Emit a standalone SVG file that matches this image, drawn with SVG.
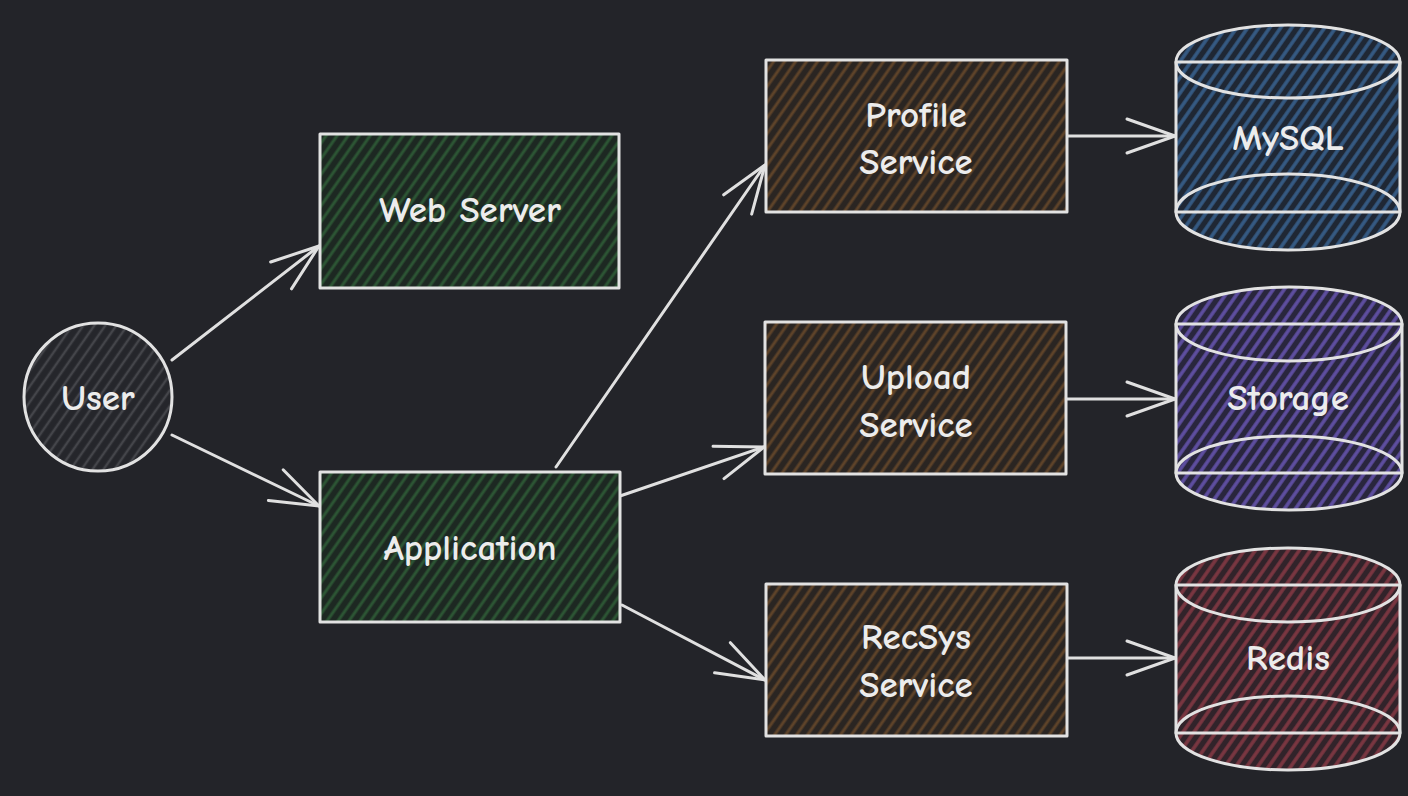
<svg xmlns="http://www.w3.org/2000/svg" width="1408" height="796" viewBox="0 0 1408 796">
<defs>
<pattern id="hUser" width="9" height="9" patternUnits="userSpaceOnUse" patternTransform="rotate(35)"><rect width="9" height="9" fill="#25262b"/><line x1="3" y1="0" x2="3" y2="9" stroke="#44454a" stroke-width="2.5"/></pattern>
<pattern id="hGreen" width="9" height="9" patternUnits="userSpaceOnUse" patternTransform="rotate(35)"><rect width="9" height="9" fill="#1d2822"/><line x1="3" y1="0" x2="3" y2="9" stroke="#2c5534" stroke-width="3"/></pattern>
<pattern id="hBrown" width="9" height="9" patternUnits="userSpaceOnUse" patternTransform="rotate(35)"><rect width="9" height="9" fill="#2a2522"/><line x1="3" y1="0" x2="3" y2="9" stroke="#5e4329" stroke-width="3"/></pattern>
<pattern id="hBlue" width="9" height="9" patternUnits="userSpaceOnUse" patternTransform="rotate(35)"><rect width="9" height="9" fill="#1f2734"/><line x1="3" y1="0" x2="3" y2="9" stroke="#355a83" stroke-width="3.5"/></pattern>
<pattern id="hPurple" width="9" height="9" patternUnits="userSpaceOnUse" patternTransform="rotate(35)"><rect width="9" height="9" fill="#29263d"/><line x1="3" y1="0" x2="3" y2="9" stroke="#5e4ea0" stroke-width="3.5"/></pattern>
<pattern id="hRed" width="9" height="9" patternUnits="userSpaceOnUse" patternTransform="rotate(35)"><rect width="9" height="9" fill="#31232a"/><line x1="3" y1="0" x2="3" y2="9" stroke="#7a3641" stroke-width="3.5"/></pattern>
<marker id="arr" markerUnits="userSpaceOnUse" markerWidth="60" markerHeight="60" refX="0" refY="0" viewBox="-40 -30 60 60" orient="auto" overflow="visible">
<path d="M-48,-17 L0,0 L-48,17" fill="none" stroke="#e0e0e0" stroke-width="3" stroke-linecap="round" stroke-linejoin="round"/>
</marker>
</defs>
<style>
.ol{fill:none;stroke:#e2e2e2;stroke-width:3;stroke-linecap:round;stroke-linejoin:round}
.cn{fill:none;stroke:#e0e0e0;stroke-width:3;stroke-linecap:round}
.t{font-family:"Comic Neue","Liberation Sans",sans-serif;font-size:37px;font-weight:bold;fill:#ececec;text-anchor:middle;dominant-baseline:central}
</style>
<rect width="1408" height="796" fill="#232429"/>

<g id="connectors">
<line class="cn" x1="172" y1="360" x2="319" y2="246" marker-end="url(#arr)"/>
<line class="cn" x1="172" y1="435" x2="319" y2="506" marker-end="url(#arr)"/>
<line class="cn" x1="556" y1="467" x2="765" y2="165" marker-end="url(#arr)"/>
<line class="cn" x1="620" y1="496" x2="764" y2="447" marker-end="url(#arr)"/>
<line class="cn" x1="622" y1="605" x2="765" y2="680" marker-end="url(#arr)"/>
<line class="cn" x1="1068" y1="136" x2="1175" y2="136" marker-end="url(#arr)"/>
<line class="cn" x1="1067" y1="399" x2="1175" y2="399" marker-end="url(#arr)"/>
<line class="cn" x1="1068" y1="658" x2="1175" y2="658" marker-end="url(#arr)"/>
</g>

<g id="user">
<circle cx="98" cy="397" r="74" fill="url(#hUser)"/>
<circle class="ol" cx="98" cy="397" r="74"/>
<text class="t" x="98" y="398">User</text>
</g>

<g id="webserver">
<rect x="320" y="134" width="299" height="154" fill="url(#hGreen)"/>
<rect class="ol" x="320" y="134" width="299" height="154"/>
<text class="t" x="470" y="210">Web Server</text>
</g>

<g id="application">
<rect x="320" y="472" width="300" height="150" fill="url(#hGreen)"/>
<rect class="ol" x="320" y="472" width="300" height="150"/>
<text class="t" x="470" y="548">Application</text>
</g>

<g id="profile">
<rect x="766" y="60" width="301" height="152" fill="url(#hBrown)"/>
<rect class="ol" x="766" y="60" width="301" height="152"/>
<text class="t" x="916" y="115">Profile</text>
<text class="t" x="916" y="162">Service</text>
</g>

<g id="upload">
<rect x="765" y="322" width="301" height="152" fill="url(#hBrown)"/>
<rect class="ol" x="765" y="322" width="301" height="152"/>
<text class="t" x="916" y="377">Upload</text>
<text class="t" x="916" y="425">Service</text>
</g>

<g id="recsys">
<rect x="766" y="584" width="301" height="152" fill="url(#hBrown)"/>
<rect class="ol" x="766" y="584" width="301" height="152"/>
<text class="t" x="916" y="637">RecSys</text>
<text class="t" x="916" y="685">Service</text>
</g>

<g id="mysql">
<path d="M1176,62 A112,37 0 0 1 1400,62 L1400,212 A112,38 0 0 1 1176,212 Z" fill="url(#hBlue)"/>
<path class="ol" d="M1176,62 A112,37 0 0 1 1400,62 L1400,212 A112,38 0 0 1 1176,212 Z"/>
<path class="ol" d="M1176,62 A112,36 0 0 0 1400,62"/>
<path class="ol" d="M1176,212 A112,38 0 0 1 1400,212"/>
<line class="ol" x1="1178" y1="62" x2="1398" y2="62" stroke-width="2"/>
<line class="ol" x1="1178" y1="212" x2="1398" y2="212" stroke-width="2"/>
<text class="t" x="1288" y="138">MySQL</text>
</g>

<g id="storage">
<path d="M1176,324 A113,37 0 0 1 1402,324 L1402,473 A113,37 0 0 1 1176,473 Z" fill="url(#hPurple)"/>
<path class="ol" d="M1176,324 A113,37 0 0 1 1402,324 L1402,473 A113,37 0 0 1 1176,473 Z"/>
<path class="ol" d="M1176,324 A113,37 0 0 0 1402,324"/>
<path class="ol" d="M1176,473 A113,37 0 0 1 1402,473"/>
<line class="ol" x1="1178" y1="324" x2="1400" y2="324" stroke-width="2"/>
<line class="ol" x1="1178" y1="473" x2="1400" y2="473" stroke-width="2"/>
<text class="t" x="1288" y="398">Storage</text>
</g>

<g id="redis">
<path d="M1176,585 A112,37 0 0 1 1400,585 L1400,733 A112,37 0 0 1 1176,733 Z" fill="url(#hRed)"/>
<path class="ol" d="M1176,585 A112,37 0 0 1 1400,585 L1400,733 A112,37 0 0 1 1176,733 Z"/>
<path class="ol" d="M1176,585 A112,37 0 0 0 1400,585"/>
<path class="ol" d="M1176,733 A112,37 0 0 1 1400,733"/>
<line class="ol" x1="1178" y1="585" x2="1398" y2="585" stroke-width="2"/>
<line class="ol" x1="1178" y1="733" x2="1398" y2="733" stroke-width="2"/>
<text class="t" x="1288" y="658">Redis</text>
</g>
</svg>
